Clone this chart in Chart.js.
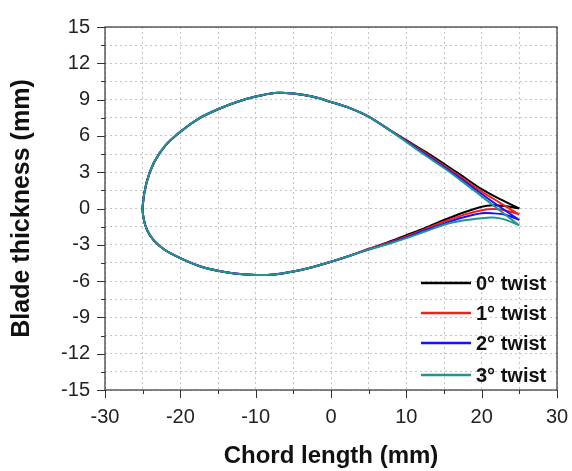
<!DOCTYPE html>
<html>
<head>
<meta charset="utf-8">
<script src="https://cdn.jsdelivr.net/npm/chart.js@4.4.1/dist/chart.umd.min.js"></script>
<style>
  html, body { margin: 0; padding: 0; background: #fff; }
  #wrap { width: 572px; height: 471px; }
</style>
</head>
<body>
<div id="wrap"><canvas id="bladeChart" width="572" height="471"></canvas></div>
<script>
// profile coordinates (mm)
// upper surface: trailing edge -> leading edge
var upperX = [25, 22.5, 20, 17.5, 15, 12.5, 10, 7.5, 5, 2.5, 0, -2.5, -5, -7.5, -10, -12.5, -15, -17.5, -20, -22, -23.5, -24.5, -25];
var upper0 = [0.0, 0.75, 1.6, 2.65, 3.7, 4.7, 5.65, 6.6, 7.6, 8.3, 8.8, 9.25, 9.5, 9.55, 9.25, 8.8, 8.2, 7.45, 6.35, 5.2, 3.8, 2.1, 0.2];
var upper1 = [-0.5, 0.45, 1.4, 2.5, 3.55, 4.6, 5.6, 6.6, 7.6, 8.3, 8.8, 9.25, 9.5, 9.55, 9.25, 8.8, 8.2, 7.45, 6.35, 5.2, 3.8, 2.1, 0.2];
var upper2 = [-0.95, 0.1, 1.2, 2.35, 3.45, 4.5, 5.55, 6.6, 7.6, 8.3, 8.8, 9.25, 9.5, 9.55, 9.25, 8.8, 8.2, 7.45, 6.35, 5.2, 3.8, 2.1, 0.2];
var upper3 = [-1.4, -0.2, 1.0, 2.2, 3.35, 4.4, 5.5, 6.6, 7.6, 8.3, 8.8, 9.25, 9.5, 9.55, 9.25, 8.8, 8.2, 7.45, 6.35, 5.2, 3.8, 2.1, 0.2];

// lower surface: leading edge -> trailing edge
var lowerX = [-24.85, -24.4, -23.5, -22, -20, -17.5, -15, -12.5, -10, -7.5, -5, -2.5, 0, 2.5, 5, 7.5, 10, 12.5, 15, 17.5, 20, 21.5, 23, 25];
var lower0 = [-0.9, -1.8, -2.65, -3.45, -4.1, -4.75, -5.15, -5.4, -5.5, -5.45, -5.2, -4.85, -4.4, -3.9, -3.35, -2.8, -2.2, -1.6, -0.95, -0.35, 0.15, 0.27, 0.2, 0.0];
var lower1 = [-0.9, -1.8, -2.65, -3.45, -4.1, -4.75, -5.15, -5.4, -5.5, -5.45, -5.2, -4.85, -4.4, -3.9, -3.35, -2.85, -2.3, -1.7, -1.1, -0.55, -0.15, -0.05, -0.15, -0.5];
var lower2 = [-0.9, -1.8, -2.65, -3.45, -4.1, -4.75, -5.15, -5.4, -5.5, -5.45, -5.2, -4.85, -4.4, -3.9, -3.4, -2.9, -2.4, -1.8, -1.25, -0.75, -0.4, -0.4, -0.5, -0.95];
var lower3 = [-0.9, -1.8, -2.65, -3.45, -4.1, -4.75, -5.15, -5.4, -5.5, -5.45, -5.2, -4.85, -4.4, -3.9, -3.4, -2.95, -2.45, -1.9, -1.35, -1.0, -0.8, -0.75, -0.9, -1.4];

var seriesNames = ['0° twist', '1° twist', '2° twist', '3° twist'];
var seriesColors = ['#000000', '#ff1a1a', '#1414ff', '#21958e'];

var xTicks = [-30, -20, -10, 0, 10, 20, 30];
var yTicks = [-15, -12, -9, -6, -3, 0, 3, 6, 9, 12, 15];

var FONT = "'Liberation Sans', Arial, sans-serif";

// ต่อผิวบนกับผิวล่างเป็นเส้นเดียว
function profile(up, low) {
    var pts = [];
    for (var i = 0; i < upperX.length; i++) pts.push({ x: upperX[i], y: up[i] });
    for (var j = 0; j < lowerX.length; j++) pts.push({ x: lowerX[j], y: low[j] });
    return pts;
}

var uppers = [upper0, upper1, upper2, upper3];
var lowers = [lower0, lower1, lower2, lower3];

var datasets = seriesNames.map(function(name, i) {
    return {
        label: name,
        data: profile(uppers[i], lowers[i]),
        borderColor: seriesColors[i],
        backgroundColor: seriesColors[i],
        borderWidth: 2,
        showLine: true,
        pointRadius: 0,
        tension: 0.3,
        order: 3 - i // teal ends up on top
    };
});

// frame, tick marks and legend
var decor = {
    id: 'decor',
    afterDraw: function(chart) {
        var ctx = chart.ctx;
        var a = chart.chartArea;
        var xs = chart.scales.x, ys = chart.scales.y;
        ctx.save();
        ctx.strokeStyle = '#333';
        ctx.lineWidth = 1.2;
        ctx.strokeRect(a.left, a.top, a.right - a.left, a.bottom - a.top);

        ctx.lineWidth = 1;
        ctx.beginPath();
        for (var v = -30; v <= 30; v += 5) {
            var px = Math.round(xs.getPixelForValue(v)) + 0.5;
            var len = (v % 10 === 0) ? 8 : 4;
            ctx.moveTo(px, a.bottom);
            ctx.lineTo(px, a.bottom + len);
        }
        for (var k = 0; k <= 20; k++) {
            var val = -15 + k * 1.5;
            var py = Math.round(ys.getPixelForValue(val)) + 0.5;
            var l2 = (k % 2 === 0) ? 8 : 4;
            ctx.moveTo(a.left, py);
            ctx.lineTo(a.left - l2, py);
        }
        ctx.stroke();

        // legend (ล่างขวาในกราฟ)
        var rowY = [283, 313, 343, 375];
        ctx.font = 'bold 20px ' + FONT;
        ctx.textBaseline = 'middle';
        ctx.textAlign = 'left';
        chart.data.datasets.forEach(function(ds, i) {
            ctx.strokeStyle = ds.borderColor;
            ctx.lineWidth = 2.5;
            ctx.beginPath();
            ctx.moveTo(421, rowY[i]);
            ctx.lineTo(471, rowY[i]);
            ctx.stroke();
            ctx.fillStyle = '#111';
            ctx.fillText(ds.label, 476, rowY[i] + 1);
        });
        ctx.restore();
    }
};

var ctx = document.getElementById('bladeChart').getContext('2d');
var bladeChart = new Chart(ctx, {
    type: 'scatter',
    data: { datasets: datasets },
    options: {
        responsive: false,
        animation: false,
        events: [],
        layout: { padding: { top: 26, right: 15, left: 0, bottom: 0 } },
        plugins: {
            legend: { display: false },
            tooltip: { enabled: false }
        },
        scales: {
            x: {
                type: 'linear',
                min: -30,
                max: 30,
                afterFit: function(scale) {
                    scale.height = 81;
                    scale.paddingLeft = 0;
                    scale.paddingRight = 0;
                },
                ticks: {
                    stepSize: 5,
                    autoSkip: false,
                    maxRotation: 0,
                    padding: 15,
                    color: '#222',
                    font: { family: FONT, size: 20 },
                    callback: function(value) {
                        return xTicks.indexOf(value) >= 0 ? String(value) : '';
                    }
                },
                grid: {
                    color: '#c4c4c4',
                    lineWidth: 1,
                    drawTicks: false
                },
                border: { display: false, dash: [2, 3] },
                title: {
                    display: true,
                    text: 'Chord length (mm)',
                    color: '#111',
                    font: { family: FONT, size: 24, weight: 'bold' },
                    padding: { top: 0, bottom: 0 }
                }
            },
            y: {
                type: 'linear',
                min: -15,
                max: 15,
                afterFit: function(scale) { scale.width = 105; },
                ticks: {
                    stepSize: 1.5,
                    autoSkip: false,
                    padding: 15,
                    color: '#222',
                    font: { family: FONT, size: 20 },
                    callback: function(value) {
                        var r = Math.round(value * 10) / 10;
                        return yTicks.indexOf(r) >= 0 ? String(r) : '';
                    }
                },
                grid: {
                    color: '#c4c4c4',
                    lineWidth: 1,
                    drawTicks: false
                },
                border: { display: false, dash: [2, 3] },
                title: {
                    display: true,
                    text: 'Blade thickness (mm)',
                    color: '#111',
                    font: { family: FONT, size: 25, weight: 'bold' },
                    padding: { top: 7, bottom: 0 }
                }
            }
        }
    },
    plugins: [decor]
});
</script>
</body>
</html>
